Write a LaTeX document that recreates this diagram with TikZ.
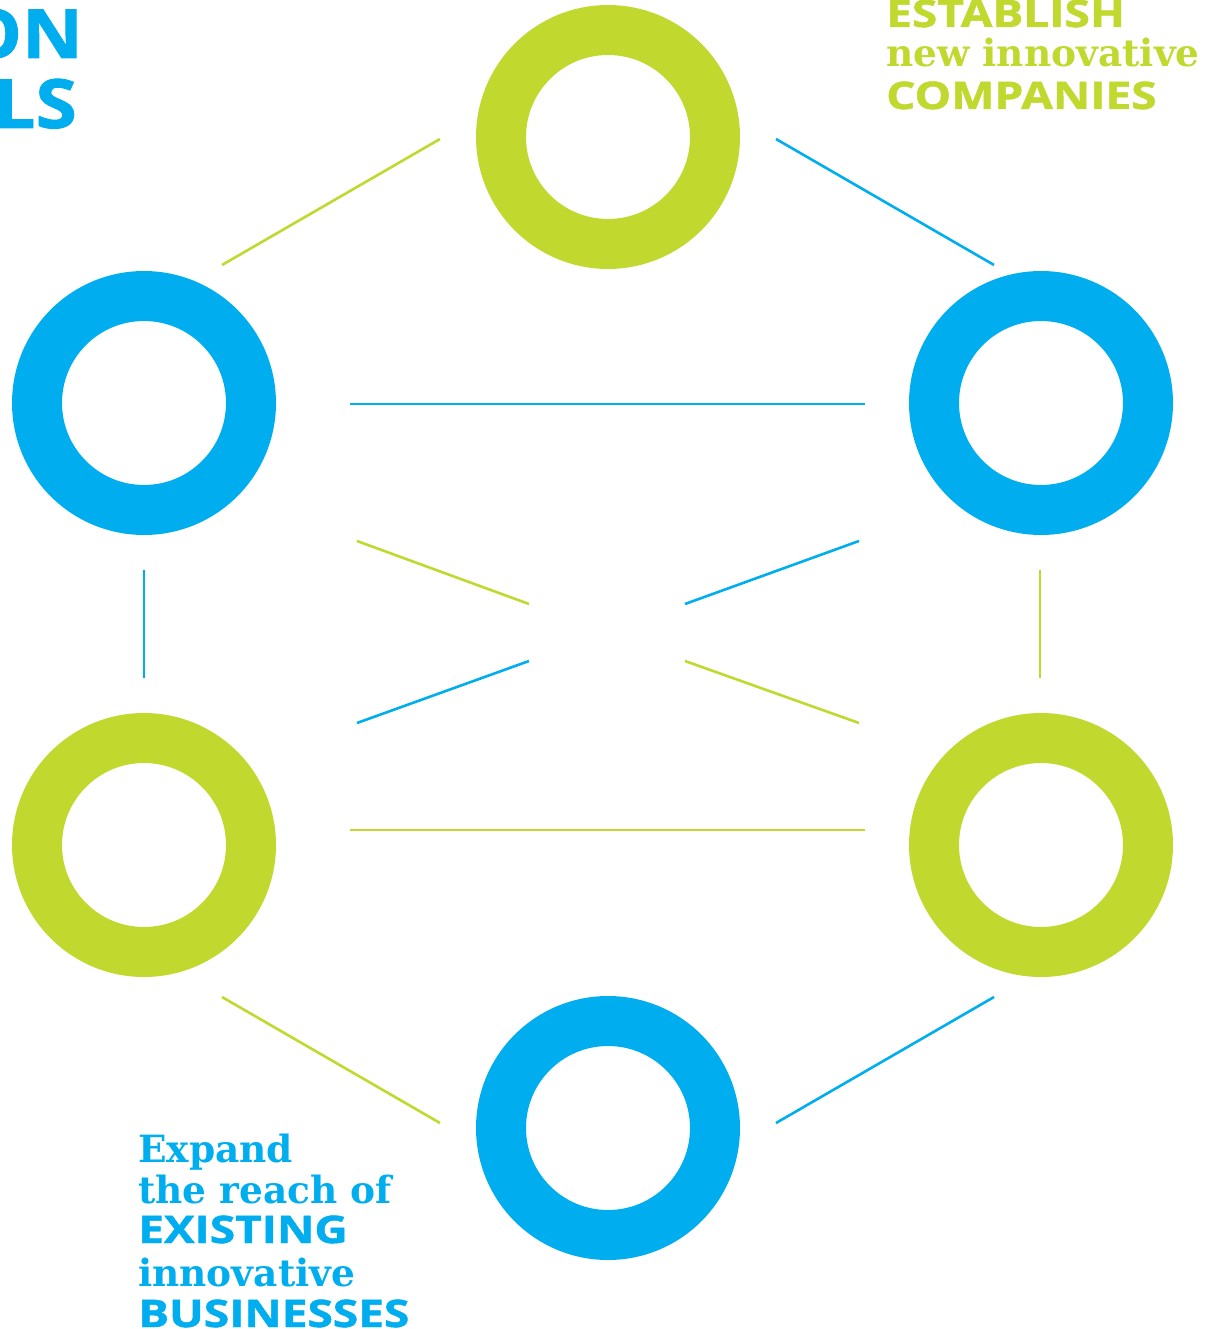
\documentclass[tikz,border=0pt]{standalone}
\usepackage{fontspec}
\setmainfont{DejaVu Serif}
\setsansfont{Open Sans}
\newfontfamily\capsfont[BoldFeatures={FakeBold=1.2}]{Open Sans}
\definecolor{cblue}{RGB}{0,174,239}
\definecolor{cgreen}{RGB}{193,216,47}
\newcommand{\widecaps}[1]{\scalebox{1.21}[1]{#1}}
\tikzset{
  ring/.style={circle, draw=#1, line width=50pt, minimum size=214pt, inner sep=0pt},
  link/.style={draw=#1, line width=2.6pt},
  caps/.style={anchor=base west, inner sep=0pt, font=\capsfont\bfseries\fontsize{38}{38}\selectfont},
  slab/.style={anchor=base west, inner sep=0pt, font=\rmfamily\bfseries\fontsize{37.5}{37.5}\selectfont},
  big/.style={anchor=base east, inner sep=0pt, text=cblue, font=\capsfont\bfseries\fontsize{68}{68}\selectfont}
}
\begin{document}
\begin{tikzpicture}[x=1pt,y=-1pt]
\useasboundingbox (0,0) rectangle (1210,1329);
% rings
\node[ring=cgreen] (top) at (608,137) {};
\node[ring=cblue]  (lt)  at (144,403) {};
\node[ring=cblue]  (rt)  at (1041,403) {};
\node[ring=cgreen] (lb)  at (144,845) {};
\node[ring=cgreen] (rb)  at (1041,845) {};
\node[ring=cblue]  (bot) at (608,1128) {};
% connector end points
\coordinate (a1) at (222,265);  \coordinate (a2) at (440,139);
\coordinate (b1) at (776,139);  \coordinate (b2) at (994,265);
\coordinate (c1) at (350,404);  \coordinate (c2) at (865,404);
\coordinate (d1) at (357,541);  \coordinate (d2) at (529,604);
\coordinate (e1) at (685,604);  \coordinate (e2) at (859,541);
\coordinate (f1) at (144,570);  \coordinate (f2) at (144,678);
\coordinate (g1) at (1040,570); \coordinate (g2) at (1040,678);
\coordinate (h1) at (357,723);  \coordinate (h2) at (529,661);
\coordinate (i1) at (685,661);  \coordinate (i2) at (859,723);
\coordinate (j1) at (350,830);  \coordinate (j2) at (865,830);
\coordinate (k1) at (222,997);  \coordinate (k2) at (440,1123);
\coordinate (l1) at (776,1123); \coordinate (l2) at (994,997);
\draw[link=cgreen] (a1) -- (a2);
\draw[link=cblue]  (b1) -- (b2);
\draw[link=cblue]  (c1) -- (c2);
\draw[link=cgreen] (d1) -- (d2);
\draw[link=cblue]  (e1) -- (e2);
\draw[link=cblue]  (f1) -- (f2);
\draw[link=cgreen] (g1) -- (g2);
\draw[link=cblue]  (h1) -- (h2);
\draw[link=cgreen] (i1) -- (i2);
\draw[link=cgreen] (j1) -- (j2);
\draw[link=cgreen] (k1) -- (k2);
\draw[link=cblue]  (l1) -- (l2);
% texts
\node[big] (t1) at (83,58) {\scalebox{1.1}[1]{ON}};
\node[big] (t2) at (77,128) {\scalebox{1.1}[1]{LS}};
\node[caps, text=cgreen] (u1) at (886,27) {\widecaps{ESTABLISH}};
\node[slab, text=cgreen] (u2) at (886,67) {new innovative};
\node[caps, text=cgreen] (u3) at (886,109) {\widecaps{COMPANIES}};
\node[slab, text=cblue] (v1) at (138,1162) {Expand};
\node[slab, text=cblue] (v2) at (138,1203) {the reach of};
\node[caps, text=cblue] (v3) at (138,1243) {\widecaps{EXISTING}};
\node[slab, text=cblue] (v4) at (138,1286) {innovative};
\node[caps, text=cblue] (v5) at (138,1327) {\widecaps{BUSINESSES}};
\end{tikzpicture}
\end{document}
